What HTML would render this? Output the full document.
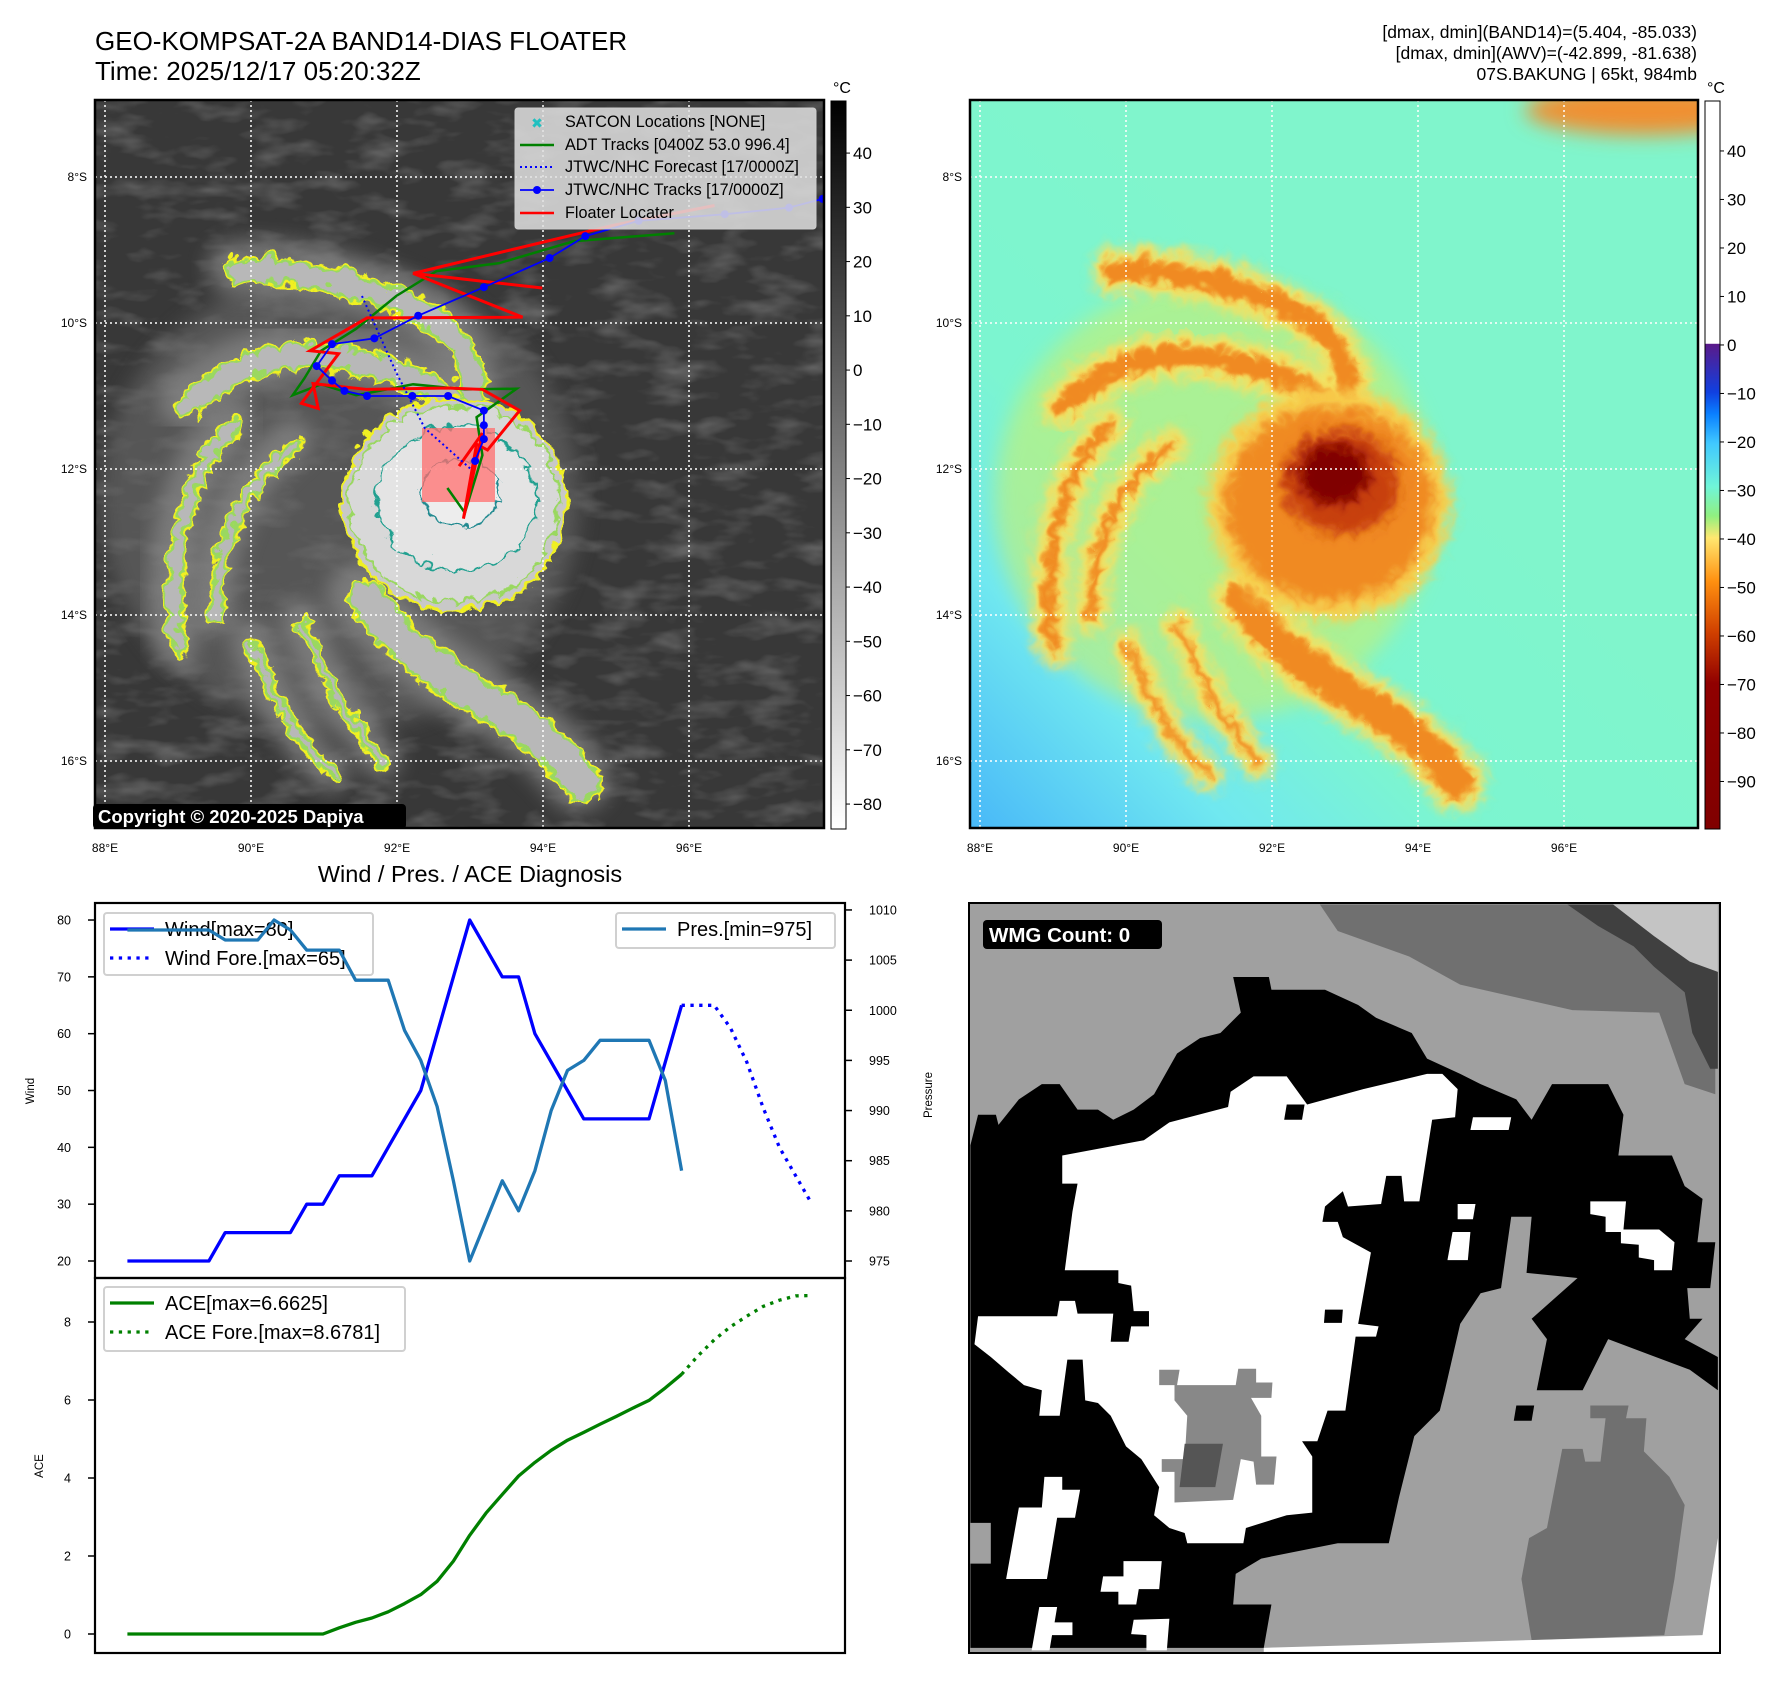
<!DOCTYPE html>
<html><head><meta charset="utf-8"><style>
html,body{margin:0;padding:0;background:#fff}
svg{display:block}
text{font-family:"Liberation Sans","DejaVu Sans",sans-serif}
</style></head><body>
<svg id="s" xmlns="http://www.w3.org/2000/svg" width="1788" height="1690" viewBox="0 0 1788 1690">
<defs>
<filter id="b3" x="-50%" y="-50%" width="200%" height="200%"><feGaussianBlur stdDeviation="3"/></filter>
<filter id="b6" x="-50%" y="-50%" width="200%" height="200%"><feGaussianBlur stdDeviation="6"/></filter>
<filter id="b10" x="-50%" y="-50%" width="200%" height="200%"><feGaussianBlur stdDeviation="10"/></filter>
<filter id="wig" x="-20%" y="-20%" width="140%" height="140%"><feTurbulence type="turbulence" baseFrequency="0.05" numOctaves="2" seed="7" result="t"/><feDisplacementMap in="SourceGraphic" in2="t" scale="16" xChannelSelector="R" yChannelSelector="G"/></filter>
<filter id="noise" x="0" y="0" width="100%" height="100%"><feTurbulence type="fractalNoise" baseFrequency="0.02 0.05" numOctaves="3" seed="4"/><feColorMatrix type="matrix" values="0 0 0 0 0.35  0 0 0 0 0.35  0 0 0 0 0.35  0 0 0 1.6 -0.75"/></filter>
<linearGradient id="cbGrey" x1="0" y1="0" x2="0" y2="1"><stop offset="0" stop-color="#000"/><stop offset="1" stop-color="#fff"/></linearGradient>
<linearGradient id="cbCol" x1="0" y1="0" x2="0" y2="1">
<stop offset="0" stop-color="#fff"/><stop offset="0.333" stop-color="#fff"/>
<stop offset="0.334" stop-color="#5a1a8a"/><stop offset="0.4" stop-color="#1040e0"/><stop offset="0.43" stop-color="#0a80ff"/>
<stop offset="0.47" stop-color="#40c8ff"/><stop offset="0.53" stop-color="#70f5d8"/><stop offset="0.57" stop-color="#90f080"/>
<stop offset="0.6" stop-color="#ffe870"/><stop offset="0.66" stop-color="#ff9010"/><stop offset="0.73" stop-color="#d04000"/>
<stop offset="0.8" stop-color="#900000"/><stop offset="1" stop-color="#800000"/></linearGradient>
<linearGradient id="rbg" x1="0" y1="1" x2="0.6" y2="0.4"><stop offset="0" stop-color="#48b8f8"/><stop offset="0.3" stop-color="#70e8f0"/><stop offset="0.55" stop-color="#7cf5d0"/><stop offset="1" stop-color="#80f5cc"/></linearGradient>
<clipPath id="cl"><rect x="95" y="100" width="729" height="728"/></clipPath>
<clipPath id="cr"><rect x="970" y="100" width="728" height="728"/></clipPath>
</defs>
<rect width="1788" height="1690" fill="#fff"/>
<text x="95" y="50" font-size="26">GEO-KOMPSAT-2A BAND14-DIAS FLOATER</text>
<text x="95" y="80" font-size="26">Time: 2025/12/17 05:20:32Z</text>
<g font-size="17.5" text-anchor="end">
<text x="1697" y="38">[dmax, dmin](BAND14)=(5.404, -85.033)</text>
<text x="1697" y="59">[dmax, dmin](AWV)=(-42.899, -81.638)</text>
<text x="1697" y="80">07S.BAKUNG | 65kt, 984mb</text>
</g>
<g id="leftMap" clip-path="url(#cl)"></g>
<g id="rightMap" clip-path="url(#cr)"></g>
<g id="mapAxes"></g>
<g id="bottomRight"></g>
<g id="chart"></g>
</svg>
<script>
// ---------- line chart data ----------
const windObs = [20,20,20,20,20,20,25,25,25,25,25,30,30,35,35,35,40,45,50,60,70,80,75,70,70,60,55,50,45,45,45,45,45,55,65];
const windFore = [65,65,65,61,55,47,40,35,30];
const presObs = [1008,1008,1008,1008,1008,1008,1007,1007,1007,1009,1008,1006,1006,1006,1003,1003,1003,998,995,990.4,983,975,979,983,980,984,990,994,995,997,997,997,997,993,984];
const aceObs = [0,0,0,0,0,0,0,0,0,0,0,0,0,0.16,0.3,0.41,0.57,0.78,1.01,1.35,1.87,2.53,3.1,3.58,4.05,4.4,4.71,4.97,5.17,5.38,5.58,5.79,5.99,6.31,6.66];
const aceFore = [6.66,7.13,7.54,7.88,8.15,8.4,8.56,8.67,8.68];
const windTicks = [20,30,40,50,60,70,80];
const presTicks = [975,980,985,990,995,1000,1005,1010];
const aceTicks = [0,2,4,6,8];
// ---------- map track data (lon E, lat S) ----------
const jtwcLon = [97.83,97.37,96.49,95.31,94.58,94.09,93.19,92.29,91.69,91.11,90.90,91.11,91.28,91.59,92.21,92.70,93.19,93.19,93.19,93.07];
const jtwcLat = [8.30,8.42,8.51,8.60,8.81,9.11,9.51,9.90,10.21,10.29,10.59,10.79,10.93,11.00,11.00,11.00,11.20,11.40,11.59,11.89];
const foreLon = [91.52,91.99,92.38,93.01];
const foreLat = [9.63,10.68,11.44,12.0];
const floatLon = [96.35,94.97,92.22,93.99,92.22,93.72,91.59,90.81,91.20,90.69,90.92,90.85,91.59,92.69,93.17,93.68,93.24,93.09,92.91,93.17,92.85];
const floatLat = [8.39,8.66,9.32,9.52,9.32,9.92,9.93,10.38,10.42,11.10,11.17,10.83,10.91,10.89,10.91,11.20,11.74,11.66,12.68,11.51,11.96];
const adtLon = [95.80,94.42,93.40,92.54,91.99,91.44,90.96,90.73,90.57,90.96,91.44,92.22,92.93,93.64,93.09,93.17,92.93,92.69];
const adtLat = [8.77,8.88,9.18,9.29,9.63,10.08,10.38,10.76,10.99,10.84,10.99,10.84,10.91,10.90,11.29,11.81,12.60,12.26];
const lonTicks = [88,90,92,94,96];
const latTicks = [8,10,12,14,16];
const greyCbTicks = [40,30,20,10,0,-10,-20,-30,-40,-50,-60,-70,-80];
const colCbTicks = [40,30,20,10,0,-10,-20,-30,-40,-50,-60,-70,-80,-90];

const NS='http://www.w3.org/2000/svg';
function mk(tag, attrs, parent, txt){const e=document.createElementNS(NS,tag);for(const k in attrs)e.setAttribute(k,attrs[k]);if(txt!==undefined)e.textContent=txt;parent.appendChild(e);return e;}
const $=id=>document.getElementById(id);

// ---------- maps ----------
const lonX=(lon,off)=>105+73*(lon-88)+off;
const latY=lat=>177+73*(lat-8);
const bands=[
 {d:"M235,268 C290,262 360,280 420,310 C450,330 465,350 470,385",w:24},
 {d:"M185,402 C230,352 300,345 360,360 C400,370 430,380 452,402",w:24},
 {d:"M175,645 C162,560 178,470 232,420",w:14},
 {d:"M212,612 C212,540 240,480 292,440",w:12},
 {d:"M360,595 C400,650 470,690 520,722 C548,742 562,760 578,778",w:36},
 {d:"M250,640 C270,700 300,745 330,772",w:9},
 {d:"M300,620 C320,680 350,720 380,760",w:9}
];
function drawMap(g, off, right){
  const t=mk('g',{transform:'translate('+off+',0)'},g);
  if(!right){
    mk('rect',{x:95,y:100,width:729,height:728,fill:'#383838'},t);
    mk('rect',{x:95,y:100,width:729,height:728,filter:'url(#noise)',opacity:0.6},t);
    mk('ellipse',{cx:340,cy:500,rx:240,ry:230,fill:'#6a6a6a',filter:'url(#b10)',opacity:0.6},t);
    bands.forEach(b=>mk('path',{d:b.d,fill:'none',stroke:'#8a8a8a','stroke-width':b.w+30,'stroke-linecap':'round',filter:'url(#b10)',opacity:0.7},t));
    const w=mk('g',{filter:'url(#wig)'},t);
    bands.forEach(b=>mk('path',{d:b.d,fill:'none',stroke:'#f0f020','stroke-width':b.w+5,'stroke-linecap':'round'},w));
    bands.forEach(b=>mk('path',{d:b.d,fill:'none',stroke:'#9ad860','stroke-width':b.w+1,'stroke-linecap':'round'},w));
    bands.forEach(b=>mk('path',{d:b.d,fill:'none',stroke:'#b8b8b8','stroke-width':Math.max(b.w-5,3),'stroke-linecap':'round'},w));
    mk('ellipse',{cx:450,cy:500,rx:112,ry:106,fill:'#c8c8c8',stroke:'#f0f020','stroke-width':3},w);
    mk('ellipse',{cx:450,cy:500,rx:104,ry:98,fill:'#d8d8d8',stroke:'#9ad860','stroke-width':2.5},w);
    mk('ellipse',{cx:452,cy:495,rx:80,ry:72,fill:'#e4e4e4',stroke:'#20a090','stroke-width':2},w);
    mk('ellipse',{cx:455,cy:488,rx:40,ry:34,fill:'#ededed',stroke:'#208a90','stroke-width':2},w);
  } else {
    mk('rect',{x:95,y:100,width:729,height:728,fill:'url(#rbg)'},t);
    mk('ellipse',{cx:770,cy:110,rx:120,ry:25,fill:'#f09030',filter:'url(#b10)'},t);
    mk('ellipse',{cx:340,cy:500,rx:220,ry:220,fill:'#c8f070',filter:'url(#b10)',opacity:0.6},t);
    const w=mk('g',{filter:'url(#wig)'},t);
    bands.forEach(b=>mk('path',{d:b.d,fill:'none',stroke:'#f8e060','stroke-width':b.w+20,'stroke-linecap':'round',filter:'url(#b6)'},w));
    bands.forEach(b=>mk('path',{d:b.d,fill:'none',stroke:'#f08a20','stroke-width':Math.max(b.w-2,4),'stroke-linecap':'round',filter:'url(#b3)'},w));
    mk('ellipse',{cx:450,cy:500,rx:122,ry:116,fill:'#f8d050',filter:'url(#b6)'},w);
    mk('ellipse',{cx:450,cy:500,rx:104,ry:98,fill:'#f08a20',filter:'url(#b6)'},w);
    mk('ellipse',{cx:462,cy:478,rx:58,ry:52,fill:'#c84010',filter:'url(#b6)'},w);
    mk('ellipse',{cx:455,cy:470,rx:36,ry:30,fill:'#800000',filter:'url(#b6)'},w);
  }
  lonTicks.forEach(l=>{const x=lonX(l,0);const e=mk('line',{x1:x,y1:100,x2:x,y2:828,stroke:'#fff','stroke-width':1.5,'stroke-dasharray':'2,3'},t);});
  latTicks.forEach(l=>{const y=latY(l);const e=mk('line',{x1:95,y1:y,x2:824,y2:y,stroke:'#fff','stroke-width':1.5,'stroke-dasharray':'2,3'},t);});
  if(!right){
    mk('rect',{x:422,y:428,width:73,height:74,fill:'rgba(255,110,110,0.75)'},t);
    const pts=(lo,la)=>lo.map((v,i)=>lonX(v,0)+','+latY(la[i])).join(' ');
    const adt=mk('polyline',{points:pts(adtLon,adtLat),fill:'none',stroke:'#008000','stroke-width':2.5},t);
    
    const fl=mk('polyline',{points:pts(floatLon,floatLat),fill:'none',stroke:'#ff0000','stroke-width':3},t);
    
    const fc=mk('polyline',{points:pts(foreLon,foreLat),fill:'none',stroke:'#0000ff','stroke-width':2,'stroke-dasharray':'2,3'},t);
    
    const jt=mk('polyline',{points:pts(jtwcLon,jtwcLat),fill:'none',stroke:'#0000ff','stroke-width':1.8},t);
    
    jtwcLon.forEach((v,i)=>{const c=mk('circle',{cx:lonX(v,0),cy:latY(jtwcLat[i]),r:4,fill:'#0000ff'},t);});
  }
}
drawMap($('leftMap'),0,false);
drawMap($('rightMap'),875,true);

const ax=$('mapAxes');
[[0,'url(#cbGrey)',831,greyCbTicks,49.6,-84.6],[875,'url(#cbCol)',1705,colCbTicks,50.3,-99.8]].forEach(([off,grad,cbx,ticks,tmax,tmin],k)=>{
  mk('rect',{x:95+off,y:100,width:729-(k?1:0),height:728,fill:'none',stroke:'#000','stroke-width':2.5},ax);
  lonTicks.forEach(l=>{const e=mk('text',{x:lonX(l,off),y:852,'font-size':12,'text-anchor':'middle'},ax,l+'°E');});
  latTicks.forEach(l=>{const e=mk('text',{x:87+off,y:latY(l)+4,'font-size':12,'text-anchor':'end'},ax,l+'°S');});
  const cb=mk('rect',{x:cbx,y:101,width:15,height:728,fill:grad,stroke:'#000','stroke-width':1},ax);
  
  mk('text',{x:cbx+2,y:93,'font-size':16},ax,'°C');
  ticks.forEach(v=>{const y=101+728*(tmax-v)/(tmax-tmin);mk('line',{x1:cbx+15,y1:y,x2:cbx+19,y2:y,stroke:'#000'},ax);const e=mk('text',{x:cbx+22,y:y+6,'font-size':17},ax,String(v).replace('-','\u2212'));});
});
mk('rect',{x:93,y:804,width:313,height:25,rx:4,fill:'#000'},ax);
mk('text',{x:98,y:823,'font-size':18.5,'font-weight':'bold',fill:'#fff'},ax,'Copyright © 2020-2025 Dapiya');
const lg=mk('g',{},ax);
mk('rect',{x:515,y:108,width:301,height:121,rx:3,fill:'rgba(225,225,225,0.85)',stroke:'#ccc'},lg);
const ly=[122,145,167,190,213];
const ltx=['SATCON Locations [NONE]','ADT Tracks [0400Z 53.0 996.4]','JTWC/NHC Forecast [17/0000Z]','JTWC/NHC Tracks [17/0000Z]','Floater Locater'];
mk('text',{x:537,y:128,'font-size':14,'font-weight':'bold',fill:'#20c0c0','text-anchor':'middle'},lg,'✖');
mk('line',{x1:520,y1:ly[1],x2:554,y2:ly[1],stroke:'#008000','stroke-width':2.5},lg);
mk('line',{x1:520,y1:ly[2],x2:554,y2:ly[2],stroke:'#0000ff','stroke-width':2,'stroke-dasharray':'2,3'},lg);
mk('line',{x1:520,y1:ly[3],x2:554,y2:ly[3],stroke:'#0000ff','stroke-width':1.8},lg);
mk('circle',{cx:537,cy:ly[3],r:4,fill:'#0000ff'},lg);
mk('line',{x1:520,y1:ly[4],x2:554,y2:ly[4],stroke:'#ff0000','stroke-width':2.5},lg);
ltx.forEach((s,i)=>{const e=mk('text',{x:565,y:ly[i]+5,'font-size':16.2},lg,s);});

// ---------- bottom-right WMG panel ----------
const br=$('bottomRight');
const bg=mk('g',{transform:'translate(950,880) scale(0.5102)'},br);
const polys=[
 ['#a0a0a0','38,45 1510,45 1510,1515 38,1515'],
 ['#707070','725,48 1290,48 1500,190 1500,420 1440,400 1390,260 1220,255 1000,205 900,150 760,100'],
 ['#404040','1210,48 1300,48 1380,110 1460,150 1505,180 1505,370 1490,370 1455,300 1440,220 1380,170 1340,130 1270,90'],
 ['#c4c4c4','1300,48 1505,48 1505,180 1450,160 1380,110'],
 ['#000','40,520 55,460 90,460 95,480 135,430 180,400 215,400 250,450 290,450 320,470 360,450 400,420 445,340 490,310 530,300 570,260 555,190 625,190 630,215 735,215 800,245 835,270 905,300 935,350 1000,380 1040,400 1110,430 1140,470 1180,400 1290,400 1320,460 1310,540 1415,540 1440,600 1475,625 1465,710 1500,710 1490,800 1445,800 1450,860 1475,860 1440,900 1505,935 1505,1000 1450,960 1290,900 1240,1000 1150,1000 1170,900 1140,860 1230,780 1130,770 1140,660 1100,660 1080,800 1040,810 1000,870 970,1000 960,1040 910,1090 880,1210 860,1300 760,1300 610,1330 560,1360 555,1420 630,1420 615,1505 40,1505'],
 ['#a0a0a0','40,1260 80,1260 80,1340 40,1340'],
 ['#fff','220,540 380,510 430,475 545,445 550,415 595,385 660,385 700,440 810,410 935,380 965,380 995,410 990,465 945,470 920,630 890,630 885,580 855,580 845,635 780,640 770,610 735,640 730,670 760,670 770,700 825,730 800,870 840,875 835,895 795,895 775,1040 740,1040 720,1100 690,1100 710,1130 710,1240 660,1245 580,1270 575,1300 465,1300 460,1280 430,1270 400,1245 410,1190 375,1135 345,1110 315,1050 290,1025 265,1020 260,940 230,940 215,1050 175,1050 180,1000 145,990 115,965 80,935 48,910 55,855 210,855 215,825 245,825 250,850 320,850 315,905 350,905 355,875 390,875 390,845 360,845 355,795 330,790 330,765 225,765 240,650 250,595 220,595'],
 ['#888','410,960 450,960 445,990 560,990 565,958 600,958 600,985 632,985 630,1015 590,1015 610,1050 610,1130 640,1130 635,1185 600,1185 595,1140 570,1135 555,1215 440,1220 440,1160 415,1160 415,1135 460,1135 465,1050 440,1020 440,990 410,990'],
 ['#555','460,1105 535,1105 520,1190 450,1190'],
 ['#fff','185,1170 220,1170 220,1195 255,1195 245,1250 210,1250 190,1370 110,1370 135,1230 180,1230'],
 ['#fff','340,1335 415,1335 410,1390 370,1390 365,1420 330,1420 330,1395 295,1395 300,1365 340,1365'],
 ['#fff','175,1425 210,1425 205,1455 240,1455 240,1480 200,1480 195,1510 160,1510'],
 ['#fff','360,1450 430,1448 425,1510 385,1510 385,1480 355,1478'],
 ['#fff','1255,630 1325,630 1320,685 1390,685 1420,710 1415,765 1380,765 1380,745 1350,740 1350,715 1315,712 1315,690 1285,690 1285,660 1255,655'],
 ['#fff','1025,465 1100,465 1095,490 1020,490'],
 ['#fff','995,635 1030,635 1025,665 995,665'],
 ['#fff','985,690 1020,690 1015,745 975,745'],
 ['#000','660,440 695,440 690,470 655,470'],
 ['#000','735,842 770,842 768,868 733,868'],
 ['#000','1110,1030 1145,1030 1140,1060 1105,1060'],
 ['#707070','1255,1030 1330,1030 1325,1055 1365,1055 1360,1120 1410,1170 1440,1225 1420,1370 1400,1480 1140,1490 1120,1370 1135,1290 1170,1270 1200,1115 1240,1115 1245,1140 1275,1140 1285,1055 1255,1055'],
 ['#fff','615,1505 1475,1480 1505,1290 1510,1513 615,1513']
];
polys.forEach(p=>{const e=mk('polygon',{points:p[1],fill:p[0]},bg);});
mk('rect',{x:969,y:903,width:751,height:750,fill:'none',stroke:'#000','stroke-width':2},br);
mk('rect',{x:983,y:920,width:179,height:29,rx:4,fill:'#000'},br);
mk('text',{x:989,y:942,'font-size':20.5,'font-weight':'bold',fill:'#fff'},br,'WMG Count: 0');

// ---------- line chart ----------
const ch=$('chart');
const X=i=>127.4+16.3*i;
const yW=w=>1261-(w-20)*5.683;
const yP=p=>1261-(p-975)*10.03;
const yA=a=>1634-a*39;
mk('text',{x:470,y:882,'font-size':23.5,'text-anchor':'middle'},ch,'Wind / Pres. / ACE Diagnosis');
function line(vals,off,yf,color,dash,name){
  const pts=vals.map((v,i)=>X(i+off).toFixed(1)+','+yf(v).toFixed(1)).join(' ');
  const a={points:pts,fill:'none',stroke:color,'stroke-width':3.3,'stroke-linejoin':'round'};
  if(dash)a['stroke-dasharray']='3.3,5.5';
  const e=mk('polyline',a,ch);
  
  
}
line(windObs,0,yW,'#0000ff',false,'wind-line');
line(windFore,34,yW,'#0000ff',true,'wind-forecast-line');
line(aceObs,0,yA,'#008000',false,'ace-line');
line(aceFore,34,yA,'#008000',true,'ace-forecast-line');
mk('rect',{x:95,y:903,width:750,height:375,fill:'none',stroke:'#000','stroke-width':2.2},ch);
mk('rect',{x:95,y:1278,width:750,height:375,fill:'none',stroke:'#000','stroke-width':2.2},ch);
windTicks.forEach(v=>{const y=yW(v);mk('line',{x1:88,y1:y,x2:95,y2:y,stroke:'#000','stroke-width':1.5},ch);const e=mk('text',{x:71,y:y+4.5,'font-size':12.5,'text-anchor':'end'},ch,v);});
presTicks.forEach(v=>{const y=yP(v);mk('line',{x1:845,y1:y,x2:852,y2:y,stroke:'#000','stroke-width':1.5},ch);const e=mk('text',{x:869,y:y+4.5,'font-size':12.5},ch,v);});
aceTicks.forEach(v=>{const y=yA(v);mk('line',{x1:88,y1:y,x2:95,y2:y,stroke:'#000','stroke-width':1.5},ch);const e=mk('text',{x:71,y:y+4.5,'font-size':12.5,'text-anchor':'end'},ch,v);});
mk('text',{x:0,y:0,'font-size':11.5,'text-anchor':'middle',transform:'translate(34,1091) rotate(-90)'},ch,'Wind');
mk('text',{x:0,y:0,'font-size':11.5,'text-anchor':'middle',transform:'translate(932,1095) rotate(-90)'},ch,'Pressure');
mk('text',{x:0,y:0,'font-size':11.5,'text-anchor':'middle',transform:'translate(43,1466) rotate(-90)'},ch,'ACE');
function legend(x,y,w,h,items,name){
  const g=mk('g',{},ch);
  mk('rect',{x:x,y:y,width:w,height:h,rx:3,fill:'rgba(255,255,255,0.8)',stroke:'#d0d0d0','stroke-width':2},g);
  items.forEach((it,i)=>{const yy=y+16+i*29;const a={x1:x+6,y1:yy,x2:x+50,y2:yy,stroke:it[1],'stroke-width':3.3};if(it[2])a['stroke-dasharray']='3.3,5.5';mk('line',a,g);mk('text',{x:x+61,y:yy+7,'font-size':20},g,it[0]);});
}
legend(104,913,269,62,[['Wind[max=80]','#0000ff',false],['Wind Fore.[max=65]','#0000ff',true]],'wind-legend');
legend(616,913,219,35,[['Pres.[min=975]','#1f77b4',false]],'pressure-legend');
legend(104,1287,301,64,[['ACE[max=6.6625]','#008000',false],['ACE Fore.[max=8.6781]','#008000',true]],'ace-legend');
line(presObs,0,yP,'#1f77b4',false,'pressure-line');
</script>
</body></html>
